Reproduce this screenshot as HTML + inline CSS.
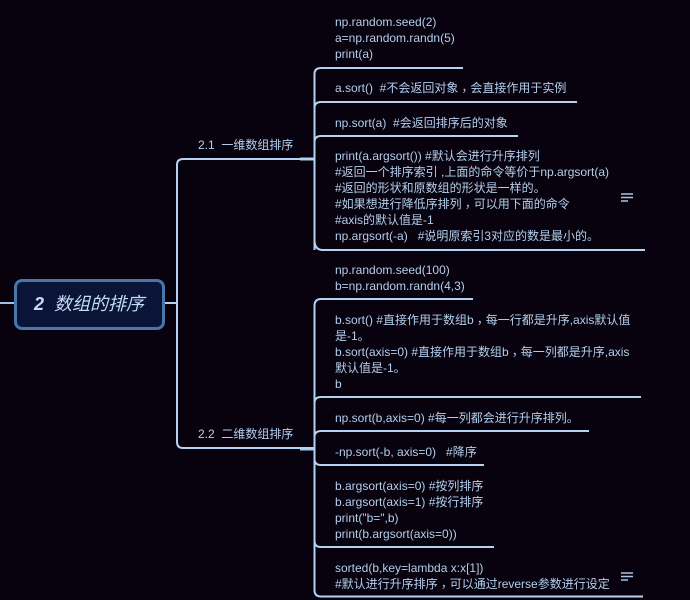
<!DOCTYPE html>
<html><head><meta charset="utf-8">
<style>
html,body{margin:0;padding:0;background:#07020e;width:690px;height:600px;overflow:hidden}
svg{position:absolute;left:0;top:0}
.t{position:absolute;left:335px;color:#b4cfec;font:12px/16px "Liberation Sans","Noto Sans CJK SC",sans-serif;white-space:pre}
.b{position:absolute;color:#b4cfec;font:12px/16px "Liberation Sans","Noto Sans CJK SC",sans-serif;white-space:pre}
.c{font-family:"Noto Sans CJK TC",sans-serif;position:relative;top:3px}
.root{position:absolute;left:14px;top:279px;width:145px;height:45px;border:3px solid #4a75a8;border-radius:8px;background:#0a1436;color:#c3dbf5;font:italic 18px/45px "Liberation Sans","Noto Sans CJK SC",sans-serif;white-space:pre;text-indent:17px}
.root b{font-weight:700}
</style></head><body>
<svg width="690" height="600" fill="none" stroke="#b4d3f2" stroke-width="2">
<path d="M0 303H14" stroke="#9fc0e2"/>
<path d="M165 303H177"/>
<path d="M314 159H300 M314 449H300" stroke-width="3" stroke="#a9c9ea"/>
<path d="M177 296V165Q177 159 183 159H314"/>
<path d="M177 296V442Q177 448 183 448H314"/>
<path d="M314.500 250V74Q314.500 68 321 68H463"/>
<path d="M314.500 108Q314.500 102 321 102H577"/>
<path d="M314.500 142Q314.500 136 321 136H518"/>
<path d="M314.500 240Q314.500 250 323 250H645"/>
<path d="M314.500 590V306Q314.500 299 321 299H473"/>
<path d="M314.500 403Q314.500 397 321 397H641"/>
<path d="M314.500 437Q314.500 431 321 431H589"/>
<path d="M314.500 459Q314.500 465 321 465H484"/>
<path d="M314.500 541Q314.500 547 321 547H494"/>
<path d="M314.500 590Q314.500 596.500 321 596.500H643"/>
<g stroke="#a9c4e2" stroke-width="1.500">
<path d="M621 194H633M621 197.500H633M621 201H628"/>
<path d="M621 573H633M621 576.500H633M621 580H628"/>
</g>
</svg>
<div class="root"><b>2</b>  数组的排序</div>
<div class="b" style="left:198px;top:137px">2.1  一维数组排序</div>
<div class="b" style="left:198px;top:426px">2.2  二维数组排序</div>
<div class="t" style="top:14px">np.random.seed(2)
a=np.random.randn(5)
print(a)</div>
<div class="t" style="top:80px">a.sort()  #不会返回对象<span class="c">，</span>会直接作用于实例</div>
<div class="t" style="top:115px">np.sort(a)  #会返回排序后的对象</div>
<div class="t" style="top:148px">print(a.argsort()) #默认会进行升序排列
#返回一个排序索引 ,上面的命令等价于np.argsort(a)
#返回的形状和原数组的形状是一样的。
#如果想进行降低序排列<span class="c">，</span>可以用下面的命令
#axis的默认值是-1
np.argsort(-a)   #说明原索引3对应的数是最小的。</div>
<div class="t" style="top:262px">np.random.seed(100)
b=np.random.randn(4,3)</div>
<div class="t" style="top:312px">b.sort() #直接作用于数组b<span class="c">，</span>每一行都是升序,axis默认值
是-1。
b.sort(axis=0) #直接作用于数组b<span class="c">，</span>每一列都是升序,axis
默认值是-1。
b</div>
<div class="t" style="top:410px">np.sort(b,axis=0) #每一列都会进行升序排列。</div>
<div class="t" style="top:444px">-np.sort(-b, axis=0)   #降序</div>
<div class="t" style="top:478px">b.argsort(axis=0) #按列排序
b.argsort(axis=1) #按行排序
print("b=",b)
print(b.argsort(axis=0))</div>
<div class="t" style="top:560px">sorted(b,key=lambda x:x[1])
#默认进行升序排序<span class="c">，</span>可以通过reverse参数进行设定</div>
</body></html>
